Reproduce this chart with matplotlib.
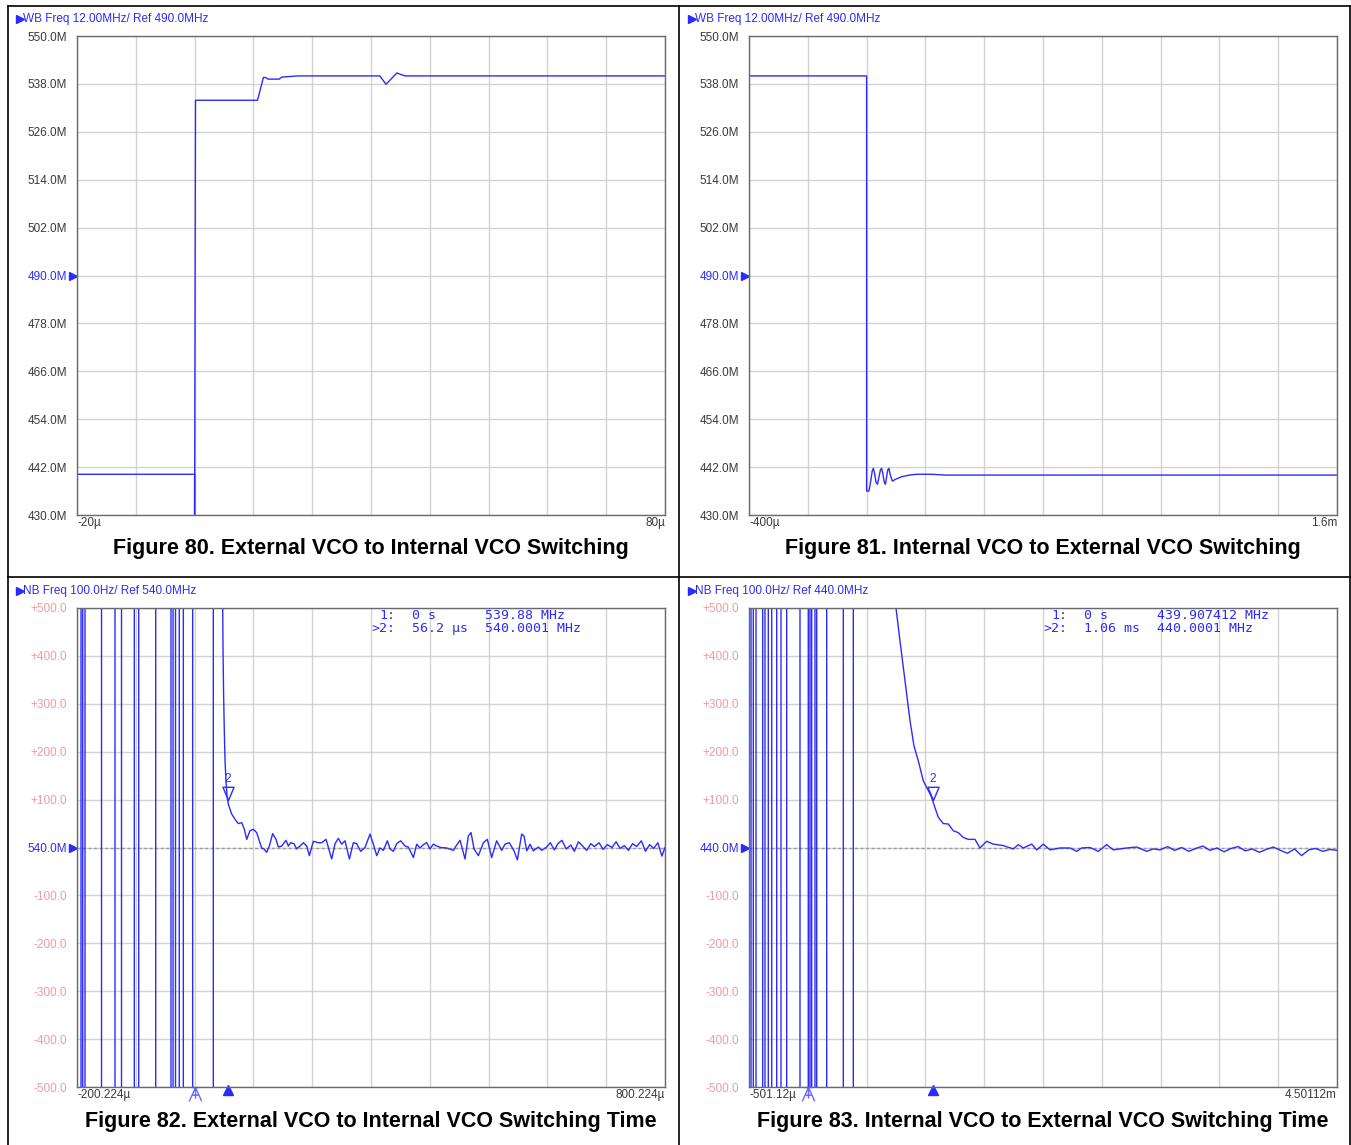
import matplotlib
matplotlib.use("Agg")
from matplotlib import pyplot as plt
from matplotlib.lines import Line2D
from matplotlib.path import Path
import numpy as np

plt.rcParams['font.family'] = ['Liberation Sans', 'DejaVu Sans']

W, H = 1351, 1145
BLUE = '#2b2bff'
GRID = '#d2d2d2'
FRAME = '#6a6a6a'
PINK = '#f59a9a'
DARK = '#3a3a3a'
OFF = 1000  # off-scale value for wrapped NB trace

# Figure 80: wideband freq (MHz) vs time (us)
t80 = [-20, 0, 0, 0.15, 10.7, 11.7, 12.1, 12.5, 14.4, 14.8, 17.6, 31.5, 32.55, 33.4, 34.4, 35.0, 35.8, 80]
f80 = [440.2, 440.2, 429, 533.9, 533.9, 539.6, 539.6, 539.2, 539.2, 539.7, 540.0, 540.0, 537.9, 539.2, 540.75, 540.4, 540.0, 540.0]

# Figure 81
t81 = [-400, 0, 0, 8, 14, 19, 23, 27, 32, 37,
       42, 47, 51, 55, 60, 64, 68, 72, 76, 80,
       87.5, 100, 120, 145, 170, 220, 272, 1600]
f81 = [540.0, 540.0, 436.0, 436.0, 438.5, 441.0, 441.7, 440.5, 438.2, 437.7,
       439.5, 441.3, 441.7, 440.5, 438.2, 437.7, 439.5, 441.3, 441.7, 440.2,
       438.5, 439.0, 439.6, 440.0, 440.2, 440.2, 440.0, 440.0]

# Figure 82: NB offset (Hz) from 540 MHz vs time (us)
wrap82 = [-193.4, -190.5, -186.6, -158.5, -135.6, -124.5, -102.7, -95.2, -66.3,
          -40.3, -36.8, -32.6, -26.2, -19.3, -3.4, 31.7]
t82 = [47.6, 48.2, 49.2, 50.3, 51.6, 53.2, 55.0, 57.3,
       62.9, 70.3, 74.3, 80.0, 84.5, 88.5, 94.1, 99.8, 105.5, 110.0,
       114.0, 118.0, 122.5, 127.0, 132.7, 138.4, 142.4, 148.0, 155.4, 159.4,
       163.3, 169.0, 173.5, 179.2, 184.9, 190.6, 195.1, 201.9, 210.4, 216.1,
       223.5, 227.4, 233.1, 238.8, 244.4, 250.1, 255.8, 263.2, 270.0, 275.6,
       282.4, 289.8, 298.3, 304.0, 309.7, 315.3, 321.0, 327.8, 332.4, 338.0,
       343.7, 350.5, 357.9, 363.5, 372.1, 377.7, 383.4, 389.1, 394.7, 400.4,
       406.1, 411.8, 418.6, 428.8, 440.1, 444.6, 451.5, 460.0, 465.6, 470.2,
       475.3, 482.7, 491.2, 498.0, 505.3, 513.8, 522.4, 528.0, 535.4, 543.3,
       549.0, 556.4, 560.4, 564.9, 570.6, 576.2, 584.7, 590.4, 598.9,
       605, 612, 618, 625, 632, 640, 646, 653, 660, 667,
       674, 680, 688, 695, 702, 710, 717, 724, 731, 738,
       745, 752, 760, 767, 774, 781, 788, 795, 800.2]
f82 = [520, 416, 320, 250, 183, 140, 108, 90,
       70, 56, 50, 52, 38, 17, 35, 38, 31, 14,
       -1, -3, -10, 3, 29, 17, 1, 3, 15, 3,
       10, 8, -3, 3, 10, 3, -17, 13, 10, 10,
       17, 0, -24, 8, 19, 7, 14, -24, 10, 8,
       -8, 0, 28, 7, -17, -1, -6, 14, -3, -8,
       8, 14, 3, 1, -21, 7, -1, 6, 10, -3,
       7, 3, 0, -1, -6, 3, 15, -24, 24, 31,
       -3, -17, 10, 17, -21, 14, -6, 7, 10, -7,
       -26, 28, 24, -7, 7, -7, 1, -6, 1,
       10, -5, 8, 15, -3, 5, -8, 12, 3, -6,
       8, 2, 10, -4, 6, 0, 12, -2, 4, -6,
       8, 2, 14, -8, 6, -2, 10, -18, 0]

# Figure 83: NB offset (Hz) from 440 MHz vs time (us)
wrap83 = [-484.1, -464.5, -441.5, -384.6, -365.0, -336.9, -308.0, -265.5, -228.9,
          -180.4, -67.3, 3.3, 17.8, 32.3, 60.3, 74.8, 159.9, 301.1, 386.2]
t83 = [749.4, 783.4, 826.0, 868.5, 902.5, 939.1, 981.7, 1047.2, 1081.2, 1109.3,
       1151.8, 1194.4, 1236.9, 1279.4, 1322.0, 1364.5, 1421.5, 1464.0, 1521.0, 1577.2,
       1662.2, 1747.3, 1789.9, 1832.4, 1903.9, 1946.4, 2002.6, 2059.5, 2144.6, 2229.6,
       2286.6, 2329.2, 2399.8, 2470.4, 2541.9, 2598.0, 2712.0, 2797.1, 2882.1, 2938.3,
       2995.3,
       3060, 3120, 3180, 3240, 3300, 3360, 3420, 3480, 3540, 3600,
       3660, 3720, 3780, 3840, 3900, 3960, 4020, 4080, 4140, 4200,
       4260, 4320, 4380, 4440, 4501.12]
f83 = [500, 431, 348, 265, 212, 181, 139, 108, 83, 63,
       50, 49, 35, 31, 21, 17, 17, -1, 13, 7,
       4, -3, 6, -1, 7, -5, 7, -5, -1, -1,
       -8, -1, 0, -8, 6, -5, -1, 1, -8, -3,
       -5,
       2, -6, 0, -8, -2, 3, -6, -1, -9, -2,
       2, -7, -3, -10, -4, 1, -6, -12, -3, -17,
       -5, -2, -8, -4, -6]

wb_labels80 = ['430.0M', '442.0M', '454.0M', '466.0M', '478.0M', '490.0M',
               '502.0M', '514.0M', '526.0M', '538.0M', '550.0M']
nb_labels82 = ['-500.0', '-400.0', '-300.0', '-200.0', '-100.0', '540.0M',
               '+100.0', '+200.0', '+300.0', '+400.0', '+500.0']
nb_labels83 = ['-500.0', '-400.0', '-300.0', '-200.0', '-100.0', '440.0M',
               '+100.0', '+200.0', '+300.0', '+400.0', '+500.0']

fig = plt.figure(figsize=(W / 100, H / 100), dpi=100)
fig.patch.set_facecolor('white')


def rect(x0, y0, x1, y1):
    return [x0 / W, 1 - y1 / H, (x1 - x0) / W, (y1 - y0) / H]


def fline(x0, y0, x1, y1):
    fig.add_artist(Line2D([x0 / W, x1 / W], [1 - y0 / H, 1 - y1 / H],
                          transform=fig.transFigure, color='black', lw=1.2))


def wrapped(tstart, wraps, first_top):
    xs, ys = [tstart], []
    level = OFF if first_top else -OFF
    ys.append(level)
    for t in wraps:
        xs += [t, t]
        ys += [level, -level]
        level = -level
    return xs, ys


def panel(box, xlim, ylim, labels, ref, lab_color, xl, xr, header, hx, hy, title):
    ax = fig.add_axes(rect(*box))
    ax.set_xlim(xlim)
    ax.set_ylim(ylim)
    ax.set_xticks(np.linspace(xlim[0], xlim[1], 11))
    ax.set_yticks(np.linspace(ylim[0], ylim[1], 11))
    ax.set_yticklabels(labels)
    ax.grid(True, color=GRID, lw=1)
    ax.set_axisbelow(True)
    ax.tick_params(length=0, labelbottom=False, pad=7, labelsize=8.5)
    for i, lb in enumerate(ax.get_yticklabels()):
        lb.set_color(BLUE if i == 5 else lab_color)
    for s in ax.spines.values():
        s.set_color(FRAME)
        s.set_linewidth(1)
    ax.plot([-0.006], [ref], transform=ax.get_yaxis_transform(), marker='>',
            ms=5.5, color=BLUE, clip_on=False, lw=0)
    ax.text(0, -0.004, xl, transform=ax.transAxes, ha='left', va='top',
            fontsize=8.5, color=DARK)
    ax.text(1, -0.004, xr, transform=ax.transAxes, ha='right', va='top',
            fontsize=8.5, color=DARK)
    fig.text((hx + 6) / W, 1 - hy / H, header, color=BLUE, fontsize=8.5, va='center')
    fig.add_artist(Line2D([(hx + 2.5) / W], [1 - hy / H], marker='>', ms=6,
                          color=BLUE, transform=fig.transFigure))
    cx = (box[0] + box[2]) / 2
    fig.text(cx / W, 1 - (box[3] + 34) / H, title, ha='center', va='center',
             fontsize=15.5, fontweight='bold', color='black')
    return ax


tri_down = Path([(0, 0), (-0.42, 1.0), (0.42, 1.0), (0, 0)],
                [Path.MOVETO, Path.LINETO, Path.LINETO, Path.CLOSEPOLY])
mark_one = Path([(-0.3, 0), (0.3, 0), (0, 0), (-0.45, -1.0), (0, 0), (0.45, -1.0),
                 (-0.25, -0.55), (0.25, -0.55), (0, 0), (0, -0.8)],
                [Path.MOVETO, Path.LINETO, Path.MOVETO, Path.LINETO, Path.MOVETO,
                 Path.LINETO, Path.MOVETO, Path.LINETO, Path.MOVETO, Path.LINETO])


def markers(ax, t1, t2, v2, rows):
    ax.plot([t2], [v2], marker=tri_down, ms=19, mfc='none', mec=BLUE, mew=1, lw=0)
    ax.annotate('2', xy=(t2, v2), xytext=(0, 15), textcoords='offset points',
                ha='center', va='center', fontsize=8.5, color=BLUE)
    ax.plot([t1], [0], transform=ax.get_xaxis_transform(), marker=mark_one, ms=20,
            mfc='none', mec='#6a6aff', mew=1, lw=0, clip_on=False)
    ax.plot([t2], [-0.007], transform=ax.get_xaxis_transform(), marker='^', ms=7,
            color=BLUE, lw=0, clip_on=False)
    ys = [0.985, 0.958]
    for (c0, c1, c2), y in zip(rows, ys):
        kw = dict(transform=ax.transAxes, va='center', fontsize=9.5,
                  family='DejaVu Sans Mono', color=BLUE)
        ax.text(0.541, y, c0, ha='right', **kw)
        ax.text(0.570, y, c1, ha='left', **kw)
        ax.text(0.694, y, c2, ha='left', **kw)


# Figure 80
ax1 = panel((77, 36, 665, 515), (-20, 80), (430, 550), wb_labels80, 490, DARK,
            '-20\u00b5', '80\u00b5', 'WB Freq 12.00MHz/ Ref 490.0MHz', 17, 19,
            'Figure 80. External VCO to Internal VCO Switching')
ax1.plot(t80, f80, color=BLUE, lw=1)

# Figure 81
ax2 = panel((749, 36, 1337, 515), (-400, 1600), (430, 550), wb_labels80, 490, DARK,
            '-400\u00b5', '1.6m', 'WB Freq 12.00MHz/ Ref 490.0MHz', 689, 19,
            'Figure 81. Internal VCO to External VCO Switching')
ax2.plot(t81, f81, color=BLUE, lw=1)

# Figure 82
ax3 = panel((77, 608, 665, 1087), (-200.224, 800.224), (-500, 500), nb_labels82, 0, PINK,
            '-200.224\u00b5', '800.224\u00b5', 'NB Freq 100.0Hz/ Ref 540.0MHz', 17, 591,
            'Figure 82. External VCO to Internal VCO Switching Time')
ax3.axhline(0, color='#9a9a9a', lw=1, ls=(0, (2, 2)), zorder=1.5)
wx, wy = wrapped(-200.224, wrap82, True)
ax3.plot(wx + [47.6] + t82, wy + [OFF] + f82, color=BLUE, lw=1)
markers(ax3, 0.0, 56.2, 100, [('1:', '0 s', '539.88 MHz'),
                               ('>2:', '56.2 \u00b5s', '540.0001 MHz')])

# Figure 83
ax4 = panel((749, 608, 1337, 1087), (-501.12, 4501.12), (-500, 500), nb_labels83, 0, PINK,
            '-501.12\u00b5', '4.50112m', 'NB Freq 100.0Hz/ Ref 440.0MHz', 689, 591,
            'Figure 83. Internal VCO to External VCO Switching Time')
ax4.axhline(0, color='#9a9a9a', lw=1, ls=(0, (2, 2)), zorder=1.5)
wx, wy = wrapped(-501.12, wrap83, False)
ax4.plot(wx + [749.4] + t83, wy + [OFF] + f83, color=BLUE, lw=1)
markers(ax4, 0.0, 1060, 100, [('1:', '0 s', '439.907412 MHz'),
                               ('>2:', '1.06 ms', '440.0001 MHz')])

# outer frame and dividers
fline(8, 6, 1350, 6)
fline(8, 6, 8, 1145)
fline(679, 6, 679, 1145)
fline(1350, 6, 1350, 1145)
fline(8, 577, 1350, 577)

fig.savefig('out.png', dpi=100)
